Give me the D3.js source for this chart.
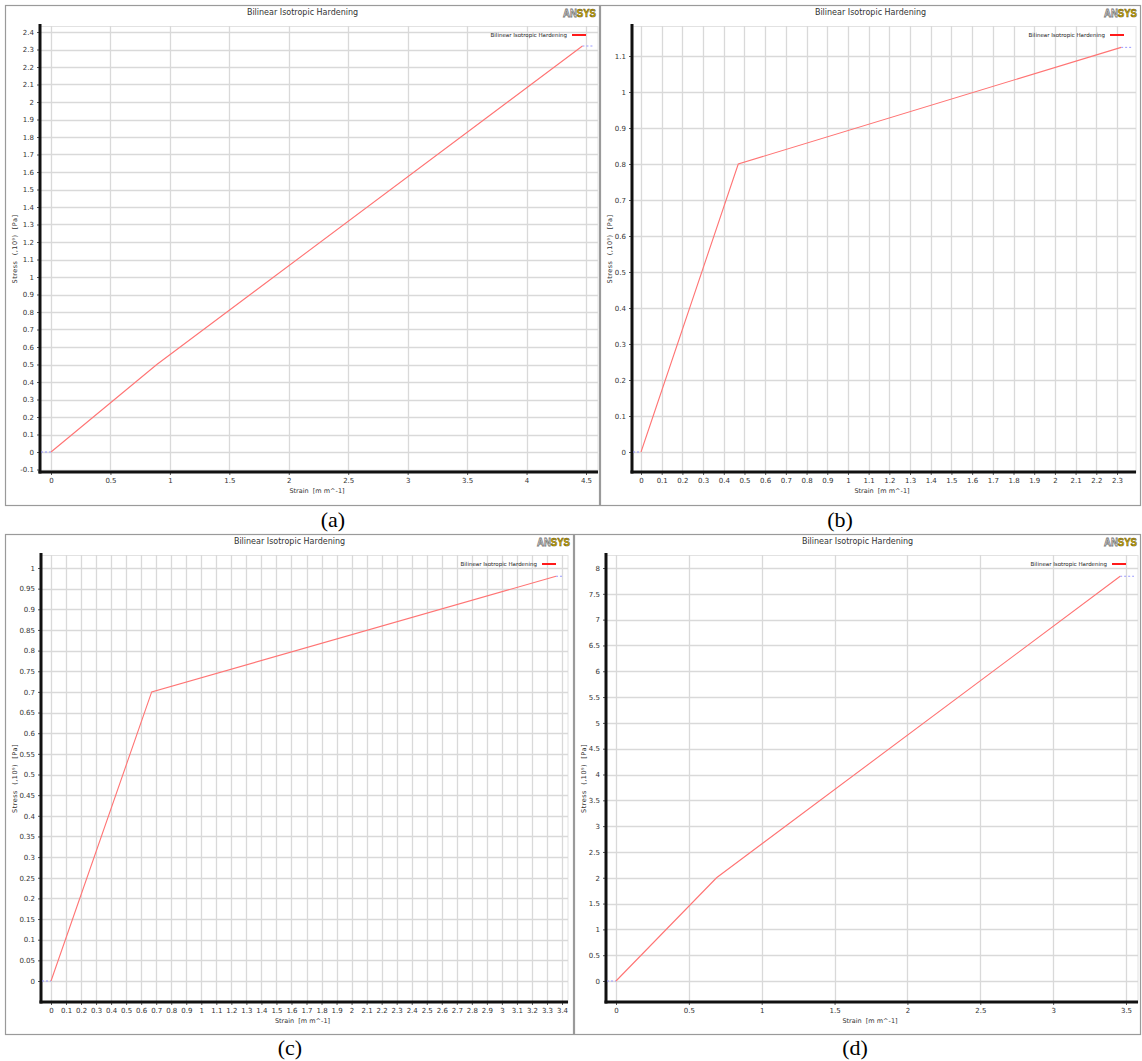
<!DOCTYPE html>
<html>
<head>
<meta charset="utf-8">
<script src="https://cdn.jsdelivr.net/npm/d3@7"></script>
<style>
  html, body { margin: 0; padding: 0; background: #fff; }
  svg { display: block; }
  svg text { font-family: "DejaVu Sans", sans-serif; }
</style>
</head>
<body>
<svg id="fig" width="1142" height="1061"></svg>
<script>
// ---- data: bilinear isotropic hardening curves (strain, stress) ----
const strainA = [0, 0.89, 4.47];
const stressA = [0, 0.5, 2.32];
const strainB = [0, 0.47, 2.32];
const stressB = [0, 0.8, 1.124];
const strainC = [0, 0.67, 3.36];
const stressC = [0, 0.7, 0.98];
const strainD = [0, 0.69, 3.46];
const stressD = [0, 2.0, 7.84];

// ---- tick labels ----
const xTicksA = ["0","0.5","1","1.5","2","2.5","3","3.5","4","4.5"];
const yTicksA = ["-0.1","0","0.1","0.2","0.3","0.4","0.5","0.6","0.7","0.8","0.9","1","1.1","1.2","1.3","1.4","1.5","1.6","1.7","1.8","1.9","2","2.1","2.2","2.3","2.4"];
const xTicksB = ["0","0.1","0.2","0.3","0.4","0.5","0.6","0.7","0.8","0.9","1","1.1","1.2","1.3","1.4","1.5","1.6","1.7","1.8","1.9","2","2.1","2.2","2.3"];
const yTicksB = ["0","0.1","0.2","0.3","0.4","0.5","0.6","0.7","0.8","0.9","1","1.1"];
const xTicksC = ["0","0.1","0.2","0.3","0.4","0.5","0.6","0.7","0.8","0.9","1","1.1","1.2","1.3","1.4","1.5","1.6","1.7","1.8","1.9","2","2.1","2.2","2.3","2.4","2.5","2.6","2.7","2.8","2.9","3","3.1","3.2","3.3","3.4"];
const yTicksC = ["0","0.05","0.1","0.15","0.2","0.25","0.3","0.35","0.4","0.45","0.5","0.55","0.6","0.65","0.7","0.75","0.8","0.85","0.9","0.95","1"];
const xTicksD = ["0","0.5","1","1.5","2","2.5","3","3.5"];
const yTicksD = ["0","0.5","1","1.5","2","2.5","3","3.5","4","4.5","5","5.5","6","6.5","7","7.5","8"];

const chartTitle = "Bilinear Isotropic Hardening";
const seriesName = "Bilinear Isotropic Hardening";
const xLabel = "Strain  [m m^-1]";
const yLabel = "Stress  (,10\u2079)  [Pa]";
const captions = ["(a)", "(b)", "(c)", "(d)"];

const svg = d3.select("#fig");

// panel frames and plot geometry
const panels = [
  { box: [5, 5, 595, 501], plot: { l: 40, r: 598, t: 26, b: 472 },
    xs: { d: [0, 4.5], r: [51, 586] }, ys: { d: [0, 2.4], r: [452, 32] },
    strain: strainA, stress: stressA, xt: xTicksA, yt: yTicksA, cap: [333, 527] },
  { box: [600, 5, 541, 501], plot: { l: 632, r: 1136, t: 26, b: 472 },
    xs: { d: [0, 2.3], r: [641, 1117] }, ys: { d: [0, 1.1], r: [452, 56] },
    strain: strainB, stress: stressB, xt: xTicksB, yt: yTicksB, cap: [840, 527] },
  { box: [5, 534, 569, 501], plot: { l: 41, r: 568, t: 555, b: 1002 },
    xs: { d: [0, 3.4], r: [51, 562] }, ys: { d: [0, 1], r: [981, 568] },
    strain: strainC, stress: stressC, xt: xTicksC, yt: yTicksC, cap: [290, 1055] },
  { box: [574, 534, 567, 501], plot: { l: 606, r: 1138, t: 555, b: 1002 },
    xs: { d: [0, 3.5], r: [616, 1126] }, ys: { d: [0, 8], r: [981, 568] },
    strain: strainD, stress: stressD, xt: xTicksD, yt: yTicksD, cap: [855, 1055] }
];

panels.forEach((p, i) => {
  const g = svg.append("g");
  const [bx, by, bw, bh] = p.box;
  const P = p.plot;

  // panel border
  g.append("rect").attr("x", bx + 0.5).attr("y", by + 0.5)
    .attr("width", bw - 1).attr("height", bh - 1)
    .attr("fill", "#fff").attr("stroke", "#9a9a9a").attr("stroke-width", 1.2);

  const x = d3.scaleLinear().domain(p.xs.d).range(p.xs.r);
  const y = d3.scaleLinear().domain(p.ys.d).range(p.ys.r);

  // plot area outline
  g.append("rect").attr("x", P.l).attr("y", P.t + 0.5)
    .attr("width", P.r - P.l).attr("height", P.b - P.t)
    .attr("fill", "none").attr("stroke", "#e2e2e2").attr("stroke-width", 1);

  // gridlines
  const grid = g.append("g").attr("stroke", "#d9d9d9").attr("stroke-width", 1.3);
  p.xt.forEach(t => {
    const xx = Math.round(x(+t)) + 0.5;
    grid.append("line").attr("x1", xx).attr("x2", xx).attr("y1", P.t).attr("y2", P.b);
  });
  p.yt.forEach(t => {
    const yy = Math.round(y(+t)) + 0.5;
    grid.append("line").attr("x1", P.l).attr("x2", P.r).attr("y1", yy).attr("y2", yy);
  });

  // axes via d3 axis generators
  const yAxis = d3.axisLeft(y).tickValues(p.yt.map(Number)).tickFormat((d, k) => p.yt[k]).tickSize(3).tickPadding(3);
  const xAxis = d3.axisBottom(x).tickValues(p.xt.map(Number)).tickFormat((d, k) => p.xt[k]).tickSize(3).tickPadding(3);
  const ya = g.append("g").attr("transform", `translate(${P.l},0)`).call(yAxis);
  const xa = g.append("g").attr("transform", `translate(0,${P.b})`).call(xAxis);
  [ya, xa].forEach(a => {
    a.select(".domain").remove();
    a.selectAll("line").attr("stroke", "#555");
    a.selectAll("text").attr("font-size", 7).attr("fill", "#333");
  });
  // heavy axis lines
  g.append("line").attr("x1", P.l).attr("x2", P.l).attr("y1", P.t - 2).attr("y2", P.b + 1.5)
    .attr("stroke", "#111").attr("stroke-width", 3);
  g.append("line").attr("x1", P.l - 1.5).attr("x2", P.r).attr("y1", P.b).attr("y2", P.b)
    .attr("stroke", "#111").attr("stroke-width", 3);

  // extrapolation markers (dashed blue) before first and after last point
  const n = p.strain.length;
  const ext = g.append("g").attr("stroke", "#9a9aff").attr("stroke-width", 1)
    .attr("stroke-dasharray", "2,2").attr("fill", "none");
  ext.append("line").attr("x1", P.l + 1).attr("x2", x(p.strain[0]))
    .attr("y1", y(p.stress[0])).attr("y2", y(p.stress[0]));
  ext.append("line").attr("x1", x(p.strain[n - 1])).attr("x2", P.r - 4)
    .attr("y1", y(p.stress[n - 1])).attr("y2", y(p.stress[n - 1]));

  // the curve
  const line = d3.line().x(d => x(d[0])).y(d => y(d[1]));
  g.append("path").datum(d3.zip(p.strain, p.stress))
    .attr("d", line).attr("fill", "none")
    .attr("stroke", "#ff7474").attr("stroke-width", 1.1);

  // title
  g.append("text").attr("x", bx + bw / 2).attr("y", by + 10)
    .attr("text-anchor", "middle").attr("font-size", 8).attr("fill", "#333")
    .text(chartTitle);

  // legend
  const lgY = P.t + 9;
  const lgX2 = P.r - 12;
  g.append("line").attr("x1", lgX2 - 14).attr("x2", lgX2).attr("y1", lgY).attr("y2", lgY)
    .attr("stroke", "#ff1a1a").attr("stroke-width", 2);
  g.append("text").attr("x", lgX2 - 19).attr("y", lgY + 2)
    .attr("text-anchor", "end").attr("font-size", 5.5).attr("fill", "#222")
    .text(seriesName);

  // logo
  const lx = bx + bw - 4, ly = by + 12;
  const logo = g.append("text").attr("x", lx).attr("y", ly)
    .attr("text-anchor", "end").attr("font-size", 11).attr("font-weight", "bold")
    .attr("textLength", 33).attr("lengthAdjust", "spacingAndGlyphs")
    .style("font-family", "'Liberation Sans', sans-serif");
  logo.append("tspan").text("AN").attr("fill", "#f4f4f4").attr("stroke", "#777").attr("stroke-width", 0.8);
  logo.append("tspan").text("SYS").attr("fill", "#d9b400").attr("stroke", "#6b5a10").attr("stroke-width", 0.6);

  // axis titles
  g.append("text").attr("x", (P.l + P.r) / 2 - 2).attr("y", P.b + 21)
    .attr("text-anchor", "middle").attr("font-size", 6.5).attr("fill", "#333")
    .style("white-space", "pre")
    .text(xLabel);
  g.append("text")
    .attr("transform", `translate(${bx + 12},${(P.t + P.b) / 2}) rotate(-90)`)
    .attr("text-anchor", "middle").attr("font-size", 6.5).attr("fill", "#333")
    .attr("letter-spacing", 0.5)
    .style("white-space", "pre")
    .text(yLabel);

  // caption
  svg.append("text").attr("x", p.cap[0]).attr("y", p.cap[1])
    .attr("text-anchor", "middle").attr("font-size", 22).attr("fill", "#000")
    .style("font-family", "'Liberation Serif', serif")
    .text(captions[i]);
});
</script>
</body>
</html>
